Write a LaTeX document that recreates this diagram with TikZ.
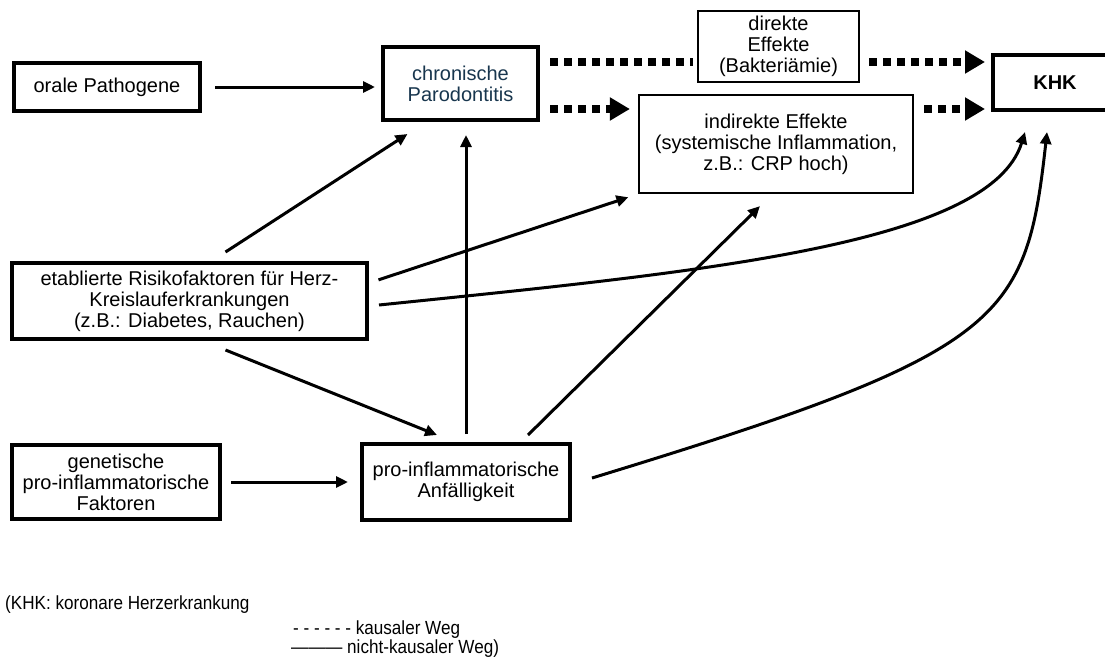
\documentclass[tikz,border=0pt]{standalone}
\usepackage{fontspec}
\usepackage{graphicx}
\setmainfont{Liberation Sans}
\usetikzlibrary{arrows.meta}
\definecolor{parotext}{RGB}{24,54,78}

\begin{document}
\begin{tikzpicture}[x=1pt, y=-1pt,
    every node/.style={font=\fontsize{20}{21}\selectfont, align=center, inner sep=0pt},
    box/.style={draw, rectangle, line width=4pt},
    thinbox/.style={draw, rectangle, line width=2.2pt},
    link/.style={line width=3pt, -{Triangle[length=12pt,width=11pt]}},
    cause/.style={line width=8pt, dash pattern=on 8pt off 6pt},
    causearrow/.style={cause, -{Triangle[length=20pt,width=22pt]}},
    key/.style={anchor=west, font=\fontsize{19}{20}\selectfont}]
    \useasboundingbox (0,0) rectangle (1105,659);
    \fill[white] (0,0) rectangle (1105,659);
    \clip (0,0) rectangle (1105,659);

    % Boxes
    \node[box, minimum width=186pt, minimum height=48pt] (oral) at (107,87) {orale Pathogene};
    \node[box, minimum width=155pt, minimum height=73pt, text=parotext] (paro) at (460.5,83.5) {chronische\\Parodontitis};
    \node[thinbox, minimum width=161pt, minimum height=71pt] (direct) at (778.5,46.5) {direkte\\Effekte\\(Bakteriämie)};
    \node[thinbox, minimum width=274pt, minimum height=98pt] (indirect) at (776,144) {indirekte Effekte\\(systemische Inflammation,\\z.B.: CRP hoch)};
    \node[box, minimum width=124pt, minimum height=55pt] (khk) at (1055,82.5) {\bfseries KHK};
    \node[box, minimum width=355pt, minimum height=76pt] (risk) at (189.5,301) {etablierte Risikofaktoren für Herz-\\Kreislauferkrankungen\\(z.B.: Diabetes, Rauchen)};
    \node[box, minimum width=208pt, minimum height=74pt] (genetic) at (116,482) {genetische\\pro-inflammatorische\\Faktoren};
    \node[box, minimum width=208pt, minimum height=76pt] (prone) at (466,482) {pro-inflammatorische\\Anfälligkeit};

    % Causal paths
    \coordinate (upper) at (0,62);
    \coordinate (lower) at (0,109);
    \draw[cause, shorten <=10pt, shorten >=4pt] (paro.east |- upper) -- (direct.west |- upper);
    \draw[causearrow, shorten <=9pt, shorten >=6pt] (direct.east |- upper) -- (khk.west |- upper);
    \draw[causearrow, shorten <=10pt, shorten >=8pt] (paro.east |- lower) -- (indirect.west |- lower);
    \draw[causearrow, shorten <=10pt, shorten >=6pt] (indirect.east |- lower) -- (khk.west |- lower);

    % Other connections
    \draw[link, shorten <=13pt, shorten >=6pt] (oral.east) -- (oral.east -| paro.west);
    \draw[link] ([xshift=36pt,yshift=9pt]risk.north) -- ([xshift=-53pt,yshift=-12pt]paro.south);
    \draw[link, shorten <=8pt, shorten >=13pt] (prone.north) -- (prone.north |- paro.south);
    \draw[link, shorten <=10pt, shorten >=10pt] ([yshift=18pt]risk.east) -- (indirect.south west);
    \draw[link] ([xshift=10pt,yshift=-4pt]risk.east) .. controls (700,272) and (990,245) .. ([xshift=-30pt,yshift=-20pt]khk.south);
    \draw[link] ([xshift=36pt,yshift=-9pt]risk.south) -- ([xshift=-29pt,yshift=7pt]prone.north);
    \draw[link, shorten <=9pt, shorten >=12pt] (genetic.east) -- (prone.west);
    \draw[link] ([xshift=62pt,yshift=7pt]prone.north) -- ([xshift=-16pt,yshift=-12pt]indirect.south);
    \draw[link] ([xshift=20pt,yshift=4pt]prone.east) .. controls (1005,352) and (1026,322) .. ([xshift=-8pt,yshift=-20pt]khk.south);

    % Legend
    \node[key] (legend) at (5,605) {\scalebox{0.9}[1]{(KHK: koronare Herzerkrankung}};
    \node[key] (dashkey) at (293,630) {\scalebox{0.9}[1]{- - - - - - kausaler Weg}};
    \node[key] (solidkey) at (291,649) {\scalebox{0.9}[1]{——— nicht-kausaler Weg)}};
\end{tikzpicture}
\end{document}
